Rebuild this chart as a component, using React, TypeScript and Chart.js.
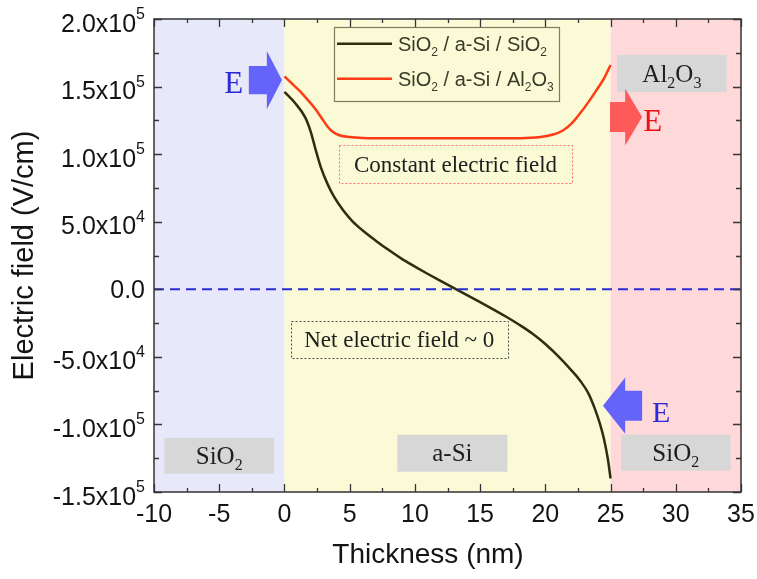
import React, { useEffect, useRef } from "react";
import { Chart, registerables } from "chart.js";

Chart.register(...registerables);

// Electric field across the stack (thickness in nm, field in V/cm)
const thicknessSiO2Stack = [0, 0.8, 1.6, 2.0, 2.4, 2.8, 3.3, 3.8, 4.5, 5.2, 6, 7, 8, 9, 10, 11, 12, 13, 14, 15, 16, 17, 18, 19, 20, 21, 22, 22.7, 23.3, 23.8, 24.2, 24.5, 24.8, 25];
const fieldSiO2Stack = [146000, 138000, 127000, 117000, 103000, 90000, 78000, 68500, 58500, 50500, 43500, 36000, 29000, 22500, 16800, 11300, 6000, 800, -4300, -9500, -14800, -20300, -26200, -32700, -40500, -49700, -60000, -68000, -77000, -88500, -100000, -111000, -126000, -140000];

const thicknessAl2O3Stack = [0, 0.6, 1.2, 1.8, 2.4, 2.9, 3.3, 3.7, 4.2, 5, 6, 8, 10, 12, 14, 16, 18, 19.5, 20.6, 21.35, 22, 22.65, 23.3, 23.9, 24.5, 25];
const fieldAl2O3Stack = [157500, 152000, 146500, 140000, 133000, 126000, 120500, 116500, 114000, 112700, 112000, 111700, 111700, 111700, 111700, 111700, 111800, 112500, 114500, 117500, 122500, 130000, 138500, 147000, 156000, 166000];

const zeroLineX = [-10, 35];
const zeroLineY = [0, 0];

const xTickValues = [-10, -5, 0, 5, 10, 15, 20, 25, 30, 35];
const yTickValues = [-150000, -100000, -50000, 0, 50000, 100000, 150000, 200000];
const yTickMantissa = ["-1.5", "-1.0", "-5.0", "0.0", "5.0", "1.0", "1.5", "2.0"];
const yTickExponent = ["5", "5", "4", "", "4", "5", "5", "5"];

// Layer extents along thickness
const layerBounds = [-10, 0, 25, 35];
const layerColors = ["#e8e8fb", "#fafad6", "#ffd9d9"];

const SANS = "'Liberation Sans', Arial, Helvetica, sans-serif";
const SERIF = "'Liberation Serif', 'Times New Roman', Times, serif";

const BLACK_LINE = "#2d2d10";
const RED_LINE = "#ff3a14";

type Run = { text: string; sub?: boolean; sup?: boolean };

function drawRuns(
  ctx: CanvasRenderingContext2D,
  runs: Run[],
  x: number,
  baseline: number,
  size: number,
  family: string,
  color: string,
  align: "left" | "center" | "right"
) {
  const small = Math.round(size * 0.62);
  const widths = runs.map((r) => {
    ctx.font = `${r.sub || r.sup ? small : size}px ${family}`;
    return ctx.measureText(r.text).width;
  });
  const total = widths.reduce((a, b) => a + b, 0);
  let cx = align === "left" ? x : align === "center" ? x - total / 2 : x - total;
  ctx.textAlign = "left";
  ctx.textBaseline = "alphabetic";
  ctx.fillStyle = color;
  runs.forEach((r, i) => {
    ctx.font = `${r.sub || r.sup ? small : size}px ${family}`;
    const dy = r.sub ? size * 0.24 : r.sup ? -size * 0.5 : 0;
    ctx.fillText(r.text, cx, baseline + dy);
    cx += widths[i];
  });
}

function drawBlockArrow(
  ctx: CanvasRenderingContext2D,
  tailX: number,
  baseX: number,
  tipX: number,
  cy: number,
  shaftHalf: number,
  headHalf: number,
  color: string
) {
  ctx.beginPath();
  ctx.moveTo(tailX, cy - shaftHalf);
  ctx.lineTo(baseX, cy - shaftHalf);
  ctx.lineTo(baseX, cy - headHalf);
  ctx.lineTo(tipX, cy);
  ctx.lineTo(baseX, cy + headHalf);
  ctx.lineTo(baseX, cy + shaftHalf);
  ctx.lineTo(tailX, cy + shaftHalf);
  ctx.closePath();
  ctx.fillStyle = color;
  ctx.fill();
}

const stackPlugin = {
  id: "stackDecor",
  beforeDatasetsDraw(chart: any) {
    const ctx: CanvasRenderingContext2D = chart.ctx;
    const xs = chart.scales.x;
    const ys = chart.scales.y;
    const X = (v: number) => xs.getPixelForValue(v);
    const Y = (v: number) => ys.getPixelForValue(v);
    const { top, bottom } = chart.chartArea;
    ctx.save();

    // layer backgrounds
    for (let i = 0; i < layerColors.length; i++) {
      ctx.fillStyle = layerColors[i];
      ctx.fillRect(X(layerBounds[i]), top, X(layerBounds[i + 1]) - X(layerBounds[i]), bottom - top);
    }

    // grey layer name tags
    const tag = (x0: number, x1: number, y0: number, y1: number, runs: Run[]) => {
      const l = X(x0), r = X(x1), t = Y(y0), b = Y(y1);
      ctx.fillStyle = "#d7d7d7";
      ctx.fillRect(l, t, r - l, b - t);
      drawRuns(ctx, runs, (l + r) / 2, (t + b) / 2 + 8, 25, SERIF, "#1e1e1e", "center");
    };
    tag(-9.2, -0.8, -110000, -136500, [{ text: "SiO" }, { text: "2", sub: true }]);
    tag(8.65, 17.1, -107600, -135000, [{ text: "a-Si" }]);
    tag(25.8, 34.2, -107600, -134200, [{ text: "SiO" }, { text: "2", sub: true }]);
    tag(25.5, 33.9, 173400, 145900, [{ text: "Al" }, { text: "2", sub: true }, { text: "O" }, { text: "3", sub: true }]);

    // dotted annotation frames
    const frame = (x0: number, x1: number, y0: number, y1: number, color: string, text: string) => {
      const l = X(x0), r = X(x1), t = Y(y0), b = Y(y1);
      ctx.strokeStyle = color;
      ctx.lineWidth = 1;
      ctx.setLineDash([2, 2]);
      ctx.strokeRect(Math.round(l) + 0.5, Math.round(t) + 0.5, Math.round(r - l), Math.round(b - t));
      ctx.setLineDash([]);
      drawRuns(ctx, [{ text }], (l + r) / 2, (t + b) / 2 + 8, 23, SERIF, "#1e1e1e", "center");
    };
    frame(4.19, 22.04, 106700, 78500, "#ff6f6f", "Constant electric field");
    frame(0.5, 17.1, -23100, -50500, "#4a4a4a", "Net electric field ~ 0");

    ctx.restore();
  },
  afterDatasetsDraw(chart: any) {
    const ctx: CanvasRenderingContext2D = chart.ctx;
    const xs = chart.scales.x;
    const ys = chart.scales.y;
    const X = (v: number) => xs.getPixelForValue(v);
    const Y = (v: number) => ys.getPixelForValue(v);
    ctx.save();

    // field direction arrows
    const halfPx = (a: number, b: number) => Math.abs(Y(a) - Y(b)) / 2;
    drawBlockArrow(ctx, X(-2.73), X(-1.35), X(-0.19), Y(154800), halfPx(164500, 143700), halfPx(175600, 132600), "#6464fa");
    drawRuns(ctx, [{ text: "E" }], X(-3.88), Y(153300) + 11, 31, SERIF, "#2a2ad6", "center");

    drawBlockArrow(ctx, X(24.96), X(26.12), X(27.42), Y(127400), halfPx(138600, 116400), halfPx(148600, 106700), "#ff5a5a");
    drawRuns(ctx, [{ text: "E" }], X(28.23), Y(125200) + 11, 31, SERIF, "#e81414", "center");

    drawBlockArrow(ctx, X(27.42), X(26.12), X(24.42), Y(-86100), halfPx(-74900, -97100), halfPx(-65300, -106800), "#6464fa");
    drawRuns(ctx, [{ text: "E" }], X(28.88), Y(-89700) + 11, 30, SERIF, "#2a2ad6", "center");

    // legend
    const ll = X(3.8), lr = X(21.04), lt = Y(194200), lb = Y(139300);
    ctx.strokeStyle = "#7d7d62";
    ctx.lineWidth = 1.2;
    ctx.strokeRect(Math.round(ll) + 0.5, Math.round(lt) + 0.5, Math.round(lr - ll), Math.round(lb - lt));
    const entries: { color: string; runs: Run[] }[] = [
      { color: BLACK_LINE, runs: [{ text: "SiO" }, { text: "2", sub: true }, { text: " / a-Si / SiO" }, { text: "2", sub: true }] },
      { color: RED_LINE, runs: [{ text: "SiO" }, { text: "2", sub: true }, { text: " / a-Si / Al" }, { text: "2", sub: true }, { text: "O" }, { text: "3", sub: true }] },
    ];
    entries.forEach((e, i) => {
      const cy = lt + 17 + i * 35;
      ctx.strokeStyle = e.color;
      ctx.lineWidth = 2.5;
      ctx.beginPath();
      ctx.moveTo(ll + 3, cy);
      ctx.lineTo(ll + 58, cy);
      ctx.stroke();
      drawRuns(ctx, e.runs, ll + 64, cy + 7, 20, SANS, "#3b3b2a", "left");
    });

    ctx.restore();
  },
  afterDraw(chart: any) {
    const ctx: CanvasRenderingContext2D = chart.ctx;
    const xs = chart.scales.x;
    const ys = chart.scales.y;
    const { left, right, top, bottom } = chart.chartArea;
    ctx.save();

    // inward ticks on all four sides
    ctx.strokeStyle = "#363636";
    ctx.lineWidth = 1.3;
    ctx.beginPath();
    const xMinor = xTickValues.slice(0, -1).map((v, i) => (v + xTickValues[i + 1]) / 2);
    const yMinor = yTickValues.slice(0, -1).map((v, i) => (v + yTickValues[i + 1]) / 2);
    const xTick = (v: number, len: number) => {
      const p = Math.round(xs.getPixelForValue(v)) + 0.5;
      ctx.moveTo(p, bottom); ctx.lineTo(p, bottom - len);
      ctx.moveTo(p, top); ctx.lineTo(p, top + len);
    };
    const yTick = (v: number, len: number) => {
      const p = Math.round(ys.getPixelForValue(v)) + 0.5;
      ctx.moveTo(left, p); ctx.lineTo(left + len, p);
      ctx.moveTo(right, p); ctx.lineTo(right - len, p);
    };
    xTickValues.forEach((v) => xTick(v, 8));
    xMinor.forEach((v) => xTick(v, 4));
    yTickValues.forEach((v) => yTick(v, 8));
    yMinor.forEach((v) => yTick(v, 5));
    ctx.stroke();

    // plot frame
    ctx.strokeStyle = "#333333";
    ctx.lineWidth = 1.5;
    ctx.strokeRect(left, top, right - left, bottom - top);

    // tick labels
    xTickValues.forEach((v) => {
      drawRuns(ctx, [{ text: String(v) }], xs.getPixelForValue(v), bottom + 30, 25, SANS, "#141414", "center");
    });
    yTickValues.forEach((v, i) => {
      const p = ys.getPixelForValue(v);
      const runs: Run[] = yTickExponent[i]
        ? [{ text: yTickMantissa[i] + "x10" }, { text: yTickExponent[i], sup: true }]
        : [{ text: yTickMantissa[i] }];
      const base = p + 9 + (yTickExponent[i] ? 3.5 : 0);
      drawRuns(ctx, runs, left - 9, base, 25, SANS, "#141414", "right");
    });

    // axis titles
    drawRuns(ctx, [{ text: "Thickness (nm)" }], 428, 563, 28, SANS, "#141414", "center");
    ctx.translate(33, (top + bottom) / 2);
    ctx.rotate(-Math.PI / 2);
    drawRuns(ctx, [{ text: "Electric field (V/cm)" }], 0, 0, 29, SANS, "#141414", "center");

    ctx.restore();
  },
};

export default function App() {
  const canvasRef = useRef<HTMLCanvasElement | null>(null);

  useEffect(() => {
    const canvas = canvasRef.current;
    if (!canvas) return;
    const toPoints = (xs: number[], ys: number[]) => xs.map((x, i) => ({ x, y: ys[i] }));
    const chart = new Chart(canvas, {
      type: "scatter",
      data: {
        datasets: [
          {
            label: "zero",
            data: toPoints(zeroLineX, zeroLineY),
            showLine: true,
            borderColor: "#2b2bd2",
            borderWidth: 2,
            borderDash: [10, 6],
            pointRadius: 0,
            order: 0,
          },
          {
            label: "SiO2 / a-Si / Al2O3",
            data: toPoints(thicknessAl2O3Stack, fieldAl2O3Stack),
            showLine: true,
            borderColor: RED_LINE,
            borderWidth: 2.5,
            pointRadius: 0,
            cubicInterpolationMode: "monotone",
            order: 1,
          },
          {
            label: "SiO2 / a-Si / SiO2",
            data: toPoints(thicknessSiO2Stack, fieldSiO2Stack),
            showLine: true,
            borderColor: BLACK_LINE,
            borderWidth: 2.5,
            pointRadius: 0,
            cubicInterpolationMode: "monotone",
            order: 2,
          },
        ],
      },
      options: {
        responsive: false,
        maintainAspectRatio: false,
        animation: false,
        devicePixelRatio: 1,
        layout: { padding: { left: 154, right: 16, top: 19, bottom: 87 } },
        scales: {
          x: { type: "linear", min: -10, max: 35, display: false },
          y: { type: "linear", min: -150000, max: 200000, display: false },
        },
        plugins: {
          legend: { display: false },
          tooltip: { enabled: false },
        },
      },
      plugins: [stackPlugin],
    });
    return () => chart.destroy();
  }, []);

  return (
    <div style={{ position: "absolute", left: 0, top: 0, width: 757, height: 579, background: "#ffffff" }}>
      <canvas ref={canvasRef} width={757} height={579} style={{ width: 757, height: 579, display: "block" }} />
    </div>
  );
}
